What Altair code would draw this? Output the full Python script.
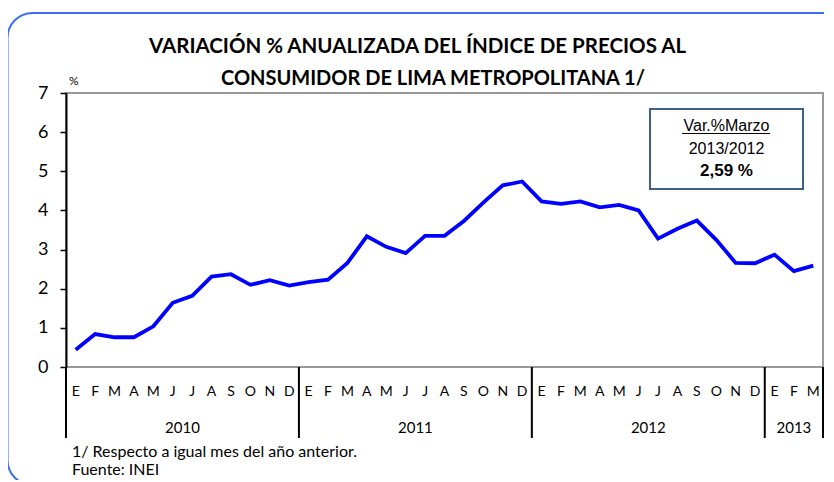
import altair as alt
import pandas as pd

# ---------------- data ----------------
months = ["E", "F", "M", "A", "M", "J", "J", "A", "S", "O", "N", "D"]
years = ["2010", "2011", "2012", "2013"]
months_per_year = [12, 12, 12, 3]
vals_2010 = [0.44, 0.84, 0.76, 0.76, 1.04, 1.64, 1.82, 2.31, 2.37, 2.10, 2.22, 2.08]
vals_2011 = [2.17, 2.23, 2.66, 3.34, 3.07, 2.91, 3.35, 3.35, 3.73, 4.20, 4.64, 4.74]
vals_2012 = [4.23, 4.17, 4.23, 4.08, 4.14, 4.00, 3.28, 3.53, 3.74, 3.25, 2.66, 2.65]
vals_2013 = [2.87, 2.45, 2.59]
y_ticks = [0, 1, 2, 3, 4, 5, 6, 7]

title_lines = ["VARIACIÓN % ANUALIZADA DEL ÍNDICE DE PRECIOS AL",
               "CONSUMIDOR DE LIMA METROPOLITANA 1/"]
box_lines = ["Var.%Marzo", "2013/2012", "2,59 %"]
notes = ["1/ Respecto a  igual mes del año anterior.", "Fuente: INEI"]

values = vals_2010 + vals_2011 + vals_2012 + vals_2013
idx = list(range(len(values)))
month_labels = [months[i % 12] for i in idx]
df = pd.DataFrame({"i": idx, "v": values, "m": month_labels})

# separators and year label positions
seps = [-0.5]
centers = []
for n in months_per_year:
    centers.append(seps[-1] + n / 2)
    seps.append(seps[-1] + n)
sep_df = pd.DataFrame({"x": seps})
year_df = pd.DataFrame({"x": centers, "year": years})

W, H = 757, 274
FONT = "Lato"

xscale = alt.Scale(domain=[-0.5, len(values) - 0.5], nice=False, zero=False)
yscale = alt.Scale(domain=[0, 7], nice=False)

one = pd.DataFrame({"a": [0]})


def txt(text, x, y, size, bold=False, font=FONT, align="center", baseline="middle"):
    return alt.Chart(one).mark_text(
        text=text, font=font, fontSize=size, fontWeight="bold" if bold else "normal",
        color="black", align=align, baseline=baseline
    ).encode(x=alt.value(x), y=alt.value(y))


border = alt.Chart(one).mark_rect(
    fill="white", fillOpacity=0, stroke="#3a6df0", strokeWidth=2, cornerRadius=25
).encode(x=alt.value(-58.5), x2=alt.value(800), y=alt.value(-80), y2=alt.value(392))

line = alt.Chart(df).mark_line(color="#0000ff", strokeWidth=3.8).encode(
    x=alt.X("i:Q", scale=xscale,
            axis=alt.Axis(values=idx, labels=False, title=None, grid=False,
                          ticks=False, domainColor="black", domainWidth=2.5)),
    y=alt.Y("v:Q", scale=yscale,
            axis=alt.Axis(values=y_ticks, title=None, grid=False,
                          tickColor="black", tickSize=6, tickWidth=1.5,
                          domainColor="black", domainWidth=2,
                          labelFont=FONT, labelFontSize=18, labelColor="black",
                          labelPadding=12, labelFlush=False)),
)

monthtext = alt.Chart(df).mark_text(
    font=FONT, fontSize=14, color="black", baseline="middle"
).encode(x=alt.X("i:Q", scale=xscale, axis=None), y=alt.value(H + 25), text="m:N")

seprules = alt.Chart(sep_df).mark_rule(color="black", strokeWidth=2).encode(
    x=alt.X("x:Q", scale=xscale, axis=None), y=alt.value(H), y2=alt.value(345)
)

yeartext = alt.Chart(year_df).mark_text(
    font=FONT, fontSize=15, color="black", baseline="middle"
).encode(x=alt.X("x:Q", scale=xscale, axis=None), y=alt.value(335), text="year:N")

box = alt.Chart(one).mark_rect(
    fill="white", stroke="#3d5f8f", strokeWidth=2
).encode(x=alt.value(584), x2=alt.value(737), y=alt.value(16), y2=alt.value(96))

underline = alt.Chart(one).mark_rule(color="black", strokeWidth=1).encode(
    x=alt.value(616), x2=alt.value(704), y=alt.value(40.5)
)

layers = [
    border, line, monthtext, seprules, yeartext, box, underline,
    txt(box_lines[0], 660.5, 32.8, 16, font="Liberation Sans"),
    txt(box_lines[1], 660.5, 55.5, 16, font="Liberation Sans"),
    txt(box_lines[2], 660.5, 78, 17, bold=True, font="Liberation Sans"),
    txt(title_lines[0], 351.5, -46, 20.5, bold=True),
    txt(title_lines[1], 367, -14, 20, bold=True),
    txt(notes[0], 6, 358.5, 16, align="left"),
    txt(notes[1], 6, 376.5, 16, align="left"),
    txt("%", 3, -12, 12, align="left"),
]

chart = alt.layer(*layers).properties(
    width=W, height=H,
    autosize=alt.AutoSizeParams(type="none"),
    padding={"left": 58, "top": 85, "right": 1, "bottom": 113},
).configure_view(stroke="#999999", strokeWidth=2)

chart.save("out.html", embed_options={"renderer": "svg", "actions": False})
